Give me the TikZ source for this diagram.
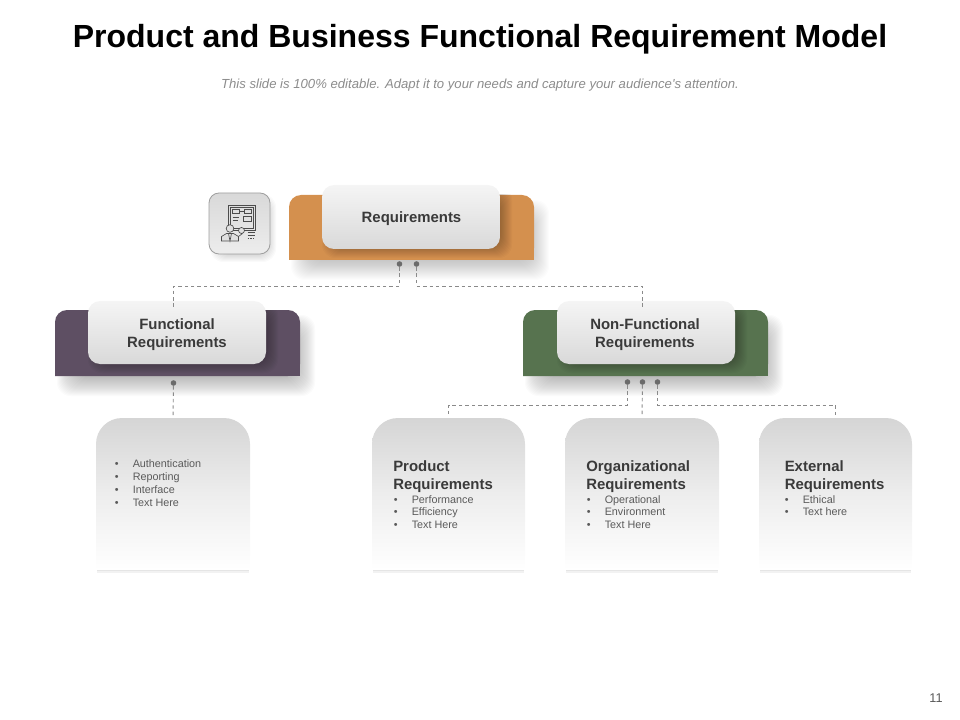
\documentclass[tikz,border=0pt]{standalone}
\usepackage{fontspec}
\setmainfont{Liberation Sans}
\newfontfamily\plainfont{Liberation Sans}
\usetikzlibrary{calc}
\definecolor{ink}{HTML}{3A3A3A}
\definecolor{listink}{HTML}{5A5A5A}
\definecolor{subink}{HTML}{8C8C8C}
\definecolor{dashc}{HTML}{8A8A8A}
\definecolor{dotc}{HTML}{6B6B6B}
\definecolor{orangebar}{HTML}{D4904E}
\definecolor{purplebar}{HTML}{5E4F63}
\definecolor{greenbar}{HTML}{57734F}
\definecolor{cardtop}{HTML}{D5D5D5}
\tikzset{
  anchorbox/.style={rectangle,inner sep=0pt,outer sep=0pt,minimum width=#1},
  plate/.style={anchorbox=133.5pt,rounded corners=9pt,shade,shading angle=-20,top color=white!96!black,bottom color=black!15},
  rail/.style={draw=dashc,line width=0.7pt,dash pattern=on 2.6pt off 2.2pt},
  pin/.style={circle,fill=dotc,inner sep=0pt,minimum size=4.2pt},
  headtext/.style={font=\bfseries\fontsize{11.2}{13.5}\selectfont,text=ink,align=center,inner sep=0pt},
  subhead/.style={font=\bfseries\fontsize{11.2}{13.5}\selectfont,text=ink,align=left,inner sep=0pt,anchor=north west},
  listtext/.style={text=listink,align=left,inner sep=0pt,anchor=north west},
  iconline/.style={draw=black!70,line width=0.5pt,fill=none},
}
\newcommand{\softshadow}[6]{%
  \foreach \k in {1,...,#6}{%
    \fill[black,opacity=#5] ($(#1,#2)+(-\k,-\k)$) [rounded corners=10pt] rectangle ($(#3,#4)+(\k,\k)$);
  }%
}
\newcommand{\itm}[1]{\makebox[13.5pt][l]{•}#1}
\begin{document}
\begin{tikzpicture}[x=0.75pt,y=-0.75pt]
\useasboundingbox (0,0) rectangle (960,720);
% title
\node[font=\bfseries\fontsize{24}{28}\selectfont,text=black,inner sep=0pt] (title) at (480,39) {Product and Business Functional Requirement Model};
\node[font=\plainfont\itshape\fontsize{9.85}{11}\selectfont,text=subink,inner sep=0pt] (subtitle) at (480,85) {This slide is 100\% editable. Adapt it to your needs and capture your audience's attention.};
\node[font=\fontsize{9.5}{11}\selectfont,text=black!65,inner sep=0pt] (pageno) at (936,698) {11};

% shadows of bars
\softshadow{313}{222}{527}{258}{0.012}{22}
\softshadow{79}{337}{293}{374}{0.016}{22}
\softshadow{547}{337}{761}{374}{0.016}{22}

% bars
\fill[orangebar,rounded corners=9pt] (289,260) -- (289,195) -- (534,195) -- (534,260) [sharp corners] -- cycle;
\fill[purplebar,rounded corners=9pt] (55,376) -- (55,310) -- (300,310) -- (300,376) [sharp corners] -- cycle;
\fill[greenbar,rounded corners=9pt] (523,376) -- (523,310) -- (768,310) -- (768,376) [sharp corners] -- cycle;
\fill[orangebar] (289,245) rectangle (534,260);
\fill[purplebar] (55,360) rectangle (300,376);
\fill[greenbar] (523,360) rectangle (768,376);

% shadows cast by the white plates
\begin{scope}
\clip (289,195) rectangle (534,260);
\softshadow{334}{198}{500}{246}{0.022}{12}
\end{scope}
\begin{scope}
\clip (55,310) rectangle (300,376);
\softshadow{100}{314}{266}{361}{0.022}{12}
\end{scope}
\begin{scope}
\clip (523,310) rectangle (768,376);
\softshadow{569}{314}{735}{361}{0.022}{12}
\end{scope}

% white plates
\node[plate,minimum height=48pt] (req) at (411,217) {};
\node[headtext] at (411.5,219) {Requirements};
\node[plate,minimum height=47.25pt] (func) at (177,332.5) {};
\node[headtext] at (177,335) {Functional\\Requirements};
\node[plate,minimum height=47.25pt] (nonf) at (646,332.5) {};
\node[headtext] at (645,335) {Non-Functional\\Requirements};

% lower cards
\foreach \nm/\xa/\xb in {lfunc/96/250,lprod/372/525,lorg/565/719,lext/759/912}{
  \fill[black,opacity=0.05] (\xa+1,560) rectangle (\xb-1,572.5);
  \fill[black,opacity=0.07] (\xa+1,560) rectangle (\xb-1,571);
  \shade[top color=cardtop,bottom color=white,middle color=black!7] (\xa,570) -- (\xa,444) .. controls (\xa,429.6) and (\xa+11.6,418) .. (\xa+26,418) -- (\xb-26,418) .. controls (\xb-11.6,418) and (\xb,429.6) .. (\xb,444) -- (\xb,570) -- cycle;
  \coordinate (\nm) at ({(\xa+\xb)/2},418);
}

% icon plate
\softshadow{218}{202}{268}{254}{0.02}{8}
\node[anchorbox=45.75pt,minimum height=45.75pt,rounded corners=7.5pt,draw=black!38,line width=0.6pt,shade,top color=black!15,bottom color=white!93!black] (iconplate) at (239.5,223.5) {};
% icon
\begin{scope}[shift={(iconplate.center)},x=0.75pt,y=-0.75pt]
  \draw[iconline,line width=0.7pt] (-11,-18) rectangle (16,7);
  \draw[iconline] (-9,-16) rectangle (14,5);
  \draw[iconline] (-7,-14) rectangle (0,-10);
  \draw[iconline] (5,-14) rectangle (12,-10);
  \draw[iconline] (0,-12) -- (5,-12);
  \draw[iconline] (-7,-6) -- (-1,-6);
  \draw[iconline] (-7,-3) -- (-2,-3);
  \draw[iconline] (4,-7) rectangle (12,-2);
  \draw[iconline,fill=white!88!black] (-9.5,5) circle (3.8);
  \draw[iconline,fill=white!88!black] (2,7) circle (3);
  \draw[iconline,fill=white!88!black] (-18,17.5) -- (-18,13) -- (-13,10) -- (-6,10) -- (-1,13) -- (-1,17.5) -- cycle;
  \draw[iconline] (-11,10) -- (-9.5,17.5) -- (-8,10);
  \draw[iconline] (-1,13) -- (3,10);
  \draw[iconline] (8,9) -- (15,9);
  \draw[iconline] (8,12) -- (15,12);
  \draw[iconline,dash pattern=on 1pt off 1pt] (8,15) -- (15,15);
\end{scope}

% pins
\node[pin] (p1) at (399.5,264) {};
\node[pin] (p2) at (416.5,264) {};
\node[pin] (p3) at (173.5,383) {};
\node[pin] (p4) at (627.5,382) {};
\node[pin] (p5) at (642.5,382) {};
\node[pin] (p6) at (657.5,382) {};
\coordinate (funcIn) at (173.5,309);
\coordinate (nonfIn) at (642.5,309);
\coordinate (topRail) at (0,286);
\coordinate (lowRail) at (0,405.5);

% connectors
\draw[rail] (p1) -- (p1 |- topRail) -- (funcIn |- topRail) -- (funcIn);
\draw[rail] (p2) -- (p2 |- topRail) -- (nonfIn |- topRail) -- (nonfIn);
\draw[rail,shorten >=2.2pt] (p3) -- (lfunc);
\draw[rail] (p4) -- (p4 |- lowRail) -- (lprod |- lowRail) -- ($(lprod)+(0,-2.5)$);
\draw[rail,shorten >=2.2pt] (p5) -- (lorg);
\draw[rail] (p6) -- (p6 |- lowRail) -- (lext |- lowRail) -- ($(lext)+(0,-2.5)$);

% card text
\node[listtext,font=\fontsize{8.1}{9.75}\selectfont] (tfunc) at (114.5,459.5) {\itm{Authentication}\\\itm{Reporting}\\\itm{Interface}\\\itm{Text Here}};
\node[subhead] (hprod) at (393,460) {Product\\Requirements};
\node[listtext,font=\fontsize{8.1}{9.35}\selectfont] (tprod) at (393.5,495) {\itm{Performance}\\\itm{Efficiency}\\\itm{Text Here}};
\node[subhead] (horg) at (586,460) {Organizational\\Requirements};
\node[listtext,font=\fontsize{8.1}{9.35}\selectfont] (torg) at (586.5,495) {\itm{Operational}\\\itm{Environment}\\\itm{Text Here}};
\node[subhead] (hext) at (784.5,460) {External\\Requirements};
\node[listtext,font=\fontsize{8.1}{9.35}\selectfont] (text) at (784.5,495) {\itm{Ethical}\\\itm{Text here}};
\end{tikzpicture}
\end{document}
